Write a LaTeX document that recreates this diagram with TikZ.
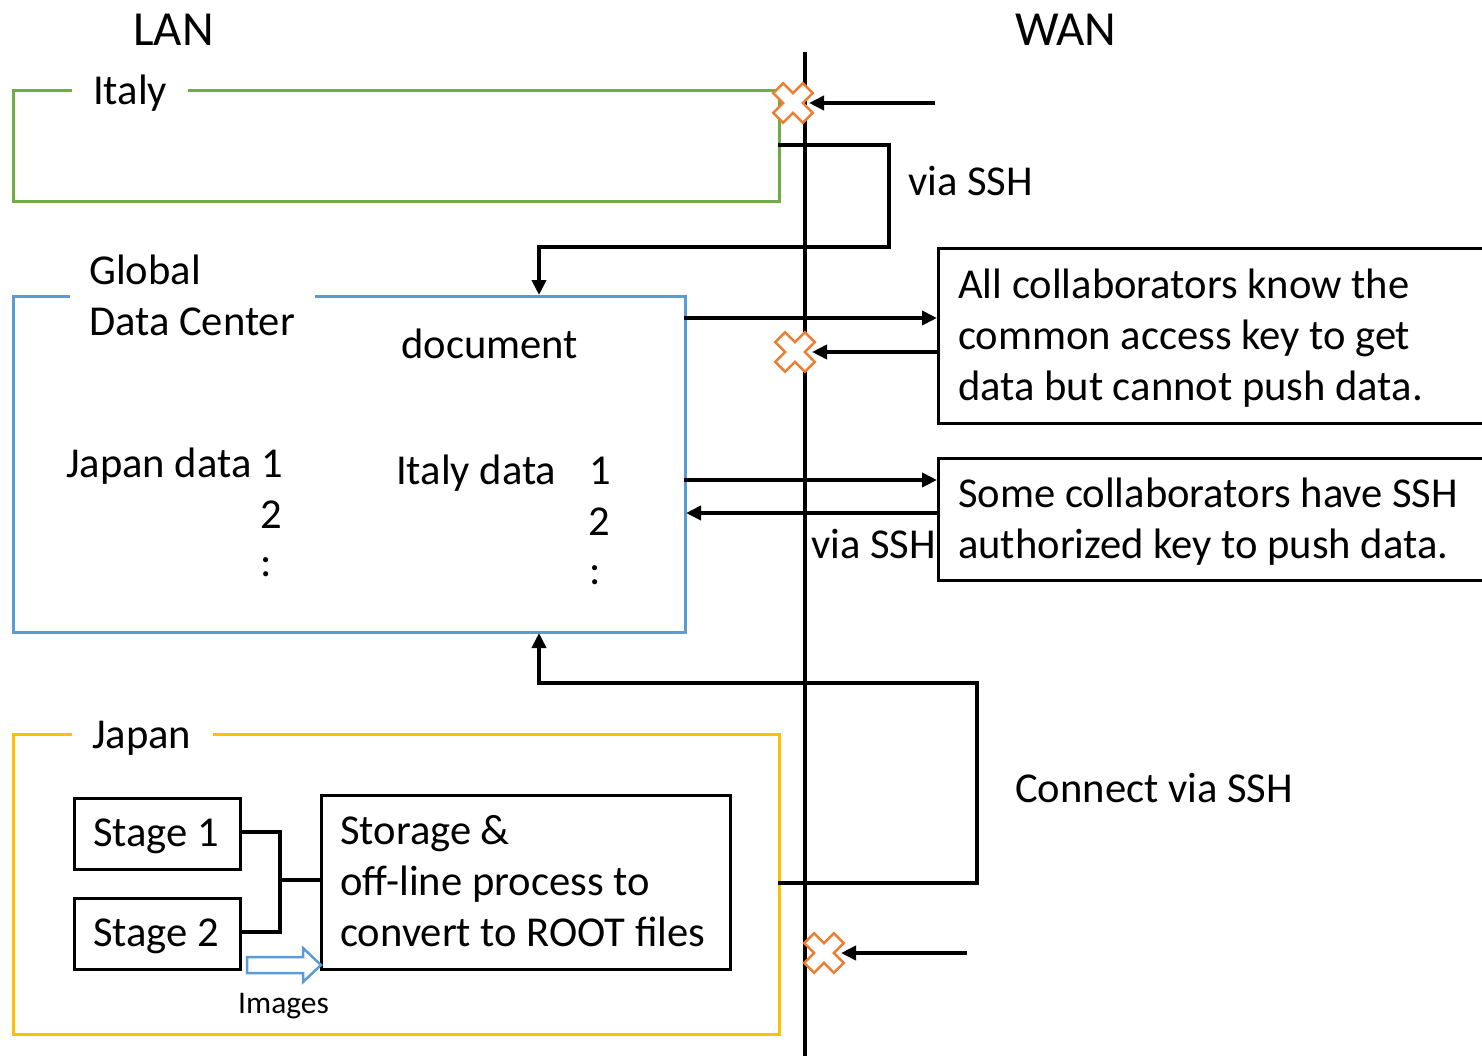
\documentclass[tikz,border=0pt]{standalone}
\usepackage{fontspec}
\setmainfont{Carlito}
\usetikzlibrary{arrows.meta}
\definecolor{cgreen}{HTML}{70AD47}
\definecolor{cblue}{HTML}{5B9BD5}
\definecolor{cyellow}{HTML}{FFC000}
\definecolor{corange}{HTML}{ED7D31}
\begin{document}
\begin{tikzpicture}[x=1pt,y=-1pt,
  txt/.style={inner sep=0pt, anchor=base west, font=\fontsize{42.6}{51}\selectfont},
  big/.style={inner sep=0pt, anchor=base west, font=\fontsize{49}{58}\selectfont},
  small/.style={inner sep=0pt, anchor=base west, font=\fontsize{31.5}{38}\selectfont},
  box/.style={draw=black, line width=2.5pt, anchor=north west, inner sep=0pt},
  conn/.style={draw=black, line width=4pt},
  arr/.style={conn, -{Triangle[length=15pt,width=14pt]}},
  xmark/.pic={\draw[corange, line width=2.5pt, fill=white, rotate=45]
     (-7,-21)--(7,-21)--(7,-7)--(21,-7)--(21,7)--(7,7)--(7,21)--(-7,21)
     --(-7,7)--(-21,7)--(-21,-7)--(-7,-7)--cycle;}]
\useasboundingbox (0,0) rectangle (1482,1055);
\clip (0,0) rectangle (1482,1055);

% titles
\node[big] (lan) at (133,45) {LAN};
\node[big] (wan) at (1015,45) {WAN};

% boundary line
\coordinate (ltop) at (805,52);
\coordinate (lbot) at (805,1056);
\draw[conn] (ltop) -- (lbot);

% Italy box
\node[box, draw=cgreen, minimum width=766pt, minimum height=111pt] (italy) at (12,89) {};
\node[fill=white, inner xsep=0pt, minimum width=116pt, minimum height=10pt, anchor=center] (italygap) at (130,89) {};
\node[txt] (italylbl) at (93,104) {Italy};

% Global data center
\node[box, draw=cblue, minimum width=672pt, minimum height=336pt] (gdc) at (12,295) {};
\node[fill=white, minimum width=245pt, minimum height=10pt, anchor=west, inner sep=0pt] (gdcgap) at (70,295) {};
\node[txt] (glob) at (89,284) {Global};
\node[txt] (dc) at (89,335) {Data Center};
\node[txt] (doc) at (401,358) {document};
\node[txt] (jd) at (66,477) {Japan data};
\node[txt] (jd1) at (261,477) {1};
\node[txt] (jd2) at (260,528) {2};
\node[txt] (jd3) at (260,576) {:};
\node[txt] (itd) at (396,484) {Italy data};
\node[txt] (itd1) at (589,484) {1};
\node[txt] (itd2) at (588,535) {2};
\node[txt] (itd3) at (589,584) {:};

% Japan box
\node[box, draw=cyellow, minimum width=766pt, minimum height=300pt] (japan) at (12,733) {};
\node[fill=white, minimum width=141pt, minimum height=10pt, anchor=west, inner sep=0pt] (japangap) at (72,733) {};
\node[txt] (japanlbl) at (92,748) {Japan};

\node[box, minimum width=166pt, minimum height=71pt] (st1) at (73,797) {};
\node[txt] (st1t) at (93,846) {Stage 1};
\node[box, minimum width=166pt, minimum height=71pt] (st2) at (73,897) {};
\node[txt] (st2t) at (93,946) {Stage 2};
\node[box, minimum width=409pt, minimum height=174pt] (stor) at (320,794) {};
\node[txt] (stor1) at (340,844) {Storage \&};
\node[txt] (stor2) at (340,895) {off-line process to};
\node[txt] (stor3) at (340,946) {convert to ROOT files};

\coordinate (s1r) at (239,832);
\coordinate (s2r) at (239,932);
\coordinate (sj) at (280,880);
\coordinate (storl) at (320,880);
\draw[conn] (s1r) -- (280,832) -- (280,932) -- (s2r);
\draw[conn] (sj) -- (storl);

% images arrow
\draw[cblue, line width=2.5pt, fill=white, line join=miter]
  (247,957)--(303,957)--(303,948)--(321,965)--(303,982)--(303,973)--(247,973)--cycle;
\node[small] (img) at (238,1013) {Images};

% right boxes
\node[box, minimum width=560pt, minimum height=175pt] (rb1) at (937,247) {};
\node[txt] (rb1a) at (958,298) {All collaborators know the};
\node[txt] (rb1b) at (958,349) {common access key to get};
\node[txt] (rb1c) at (958,400) {data but cannot push data.};
\node[box, minimum width=560pt, minimum height=122pt] (rb2) at (937,457) {};
\node[txt] (rb2a) at (958,507) {Some collaborators have SSH};
\node[txt] (rb2b) at (958,558) {authorized key to push data.};

% X marks
\pic at (793,103) {xmark};
\pic at (795,352) {xmark};
\pic at (824,953) {xmark};

% arrows
\coordinate (a1s) at (935,103);
\coordinate (a1e) at (809,103);
\draw[arr] (a1s) -- (a1e);

\coordinate (it1) at (778,145);
\coordinate (gdcin) at (539,295);
\draw[arr] (it1) -- (889,145) -- (889,247) -- (539,247) -- (gdcin);
\node[txt] (vs1) at (908,195) {via SSH};

\coordinate (g1) at (684,318);
\coordinate (r1) at (937,318);
\draw[arr] (g1) -- (r1);
\coordinate (r1b) at (937,352);
\coordinate (x2e) at (812,352);
\draw[arr] (r1b) -- (x2e);

\coordinate (g2) at (684,480);
\coordinate (r2) at (937,480);
\draw[arr] (g2) -- (r2);
\coordinate (r2b) at (937,513);
\coordinate (g2b) at (686,513);
\draw[arr] (r2b) -- (g2b);
\node[txt] (vs2) at (811,558) {via SSH};

\coordinate (jp1) at (778,883);
\coordinate (gdcbot) at (539,633);
\draw[arr] (jp1) -- (977,883) -- (977,683) -- (539,683) -- (gdcbot);
\node[txt] (cvs) at (1015,802) {Connect via SSH};

\coordinate (a3s) at (967,953);
\coordinate (a3e) at (841,953);
\draw[arr] (a3s) -- (a3e);
\end{tikzpicture}
\end{document}
